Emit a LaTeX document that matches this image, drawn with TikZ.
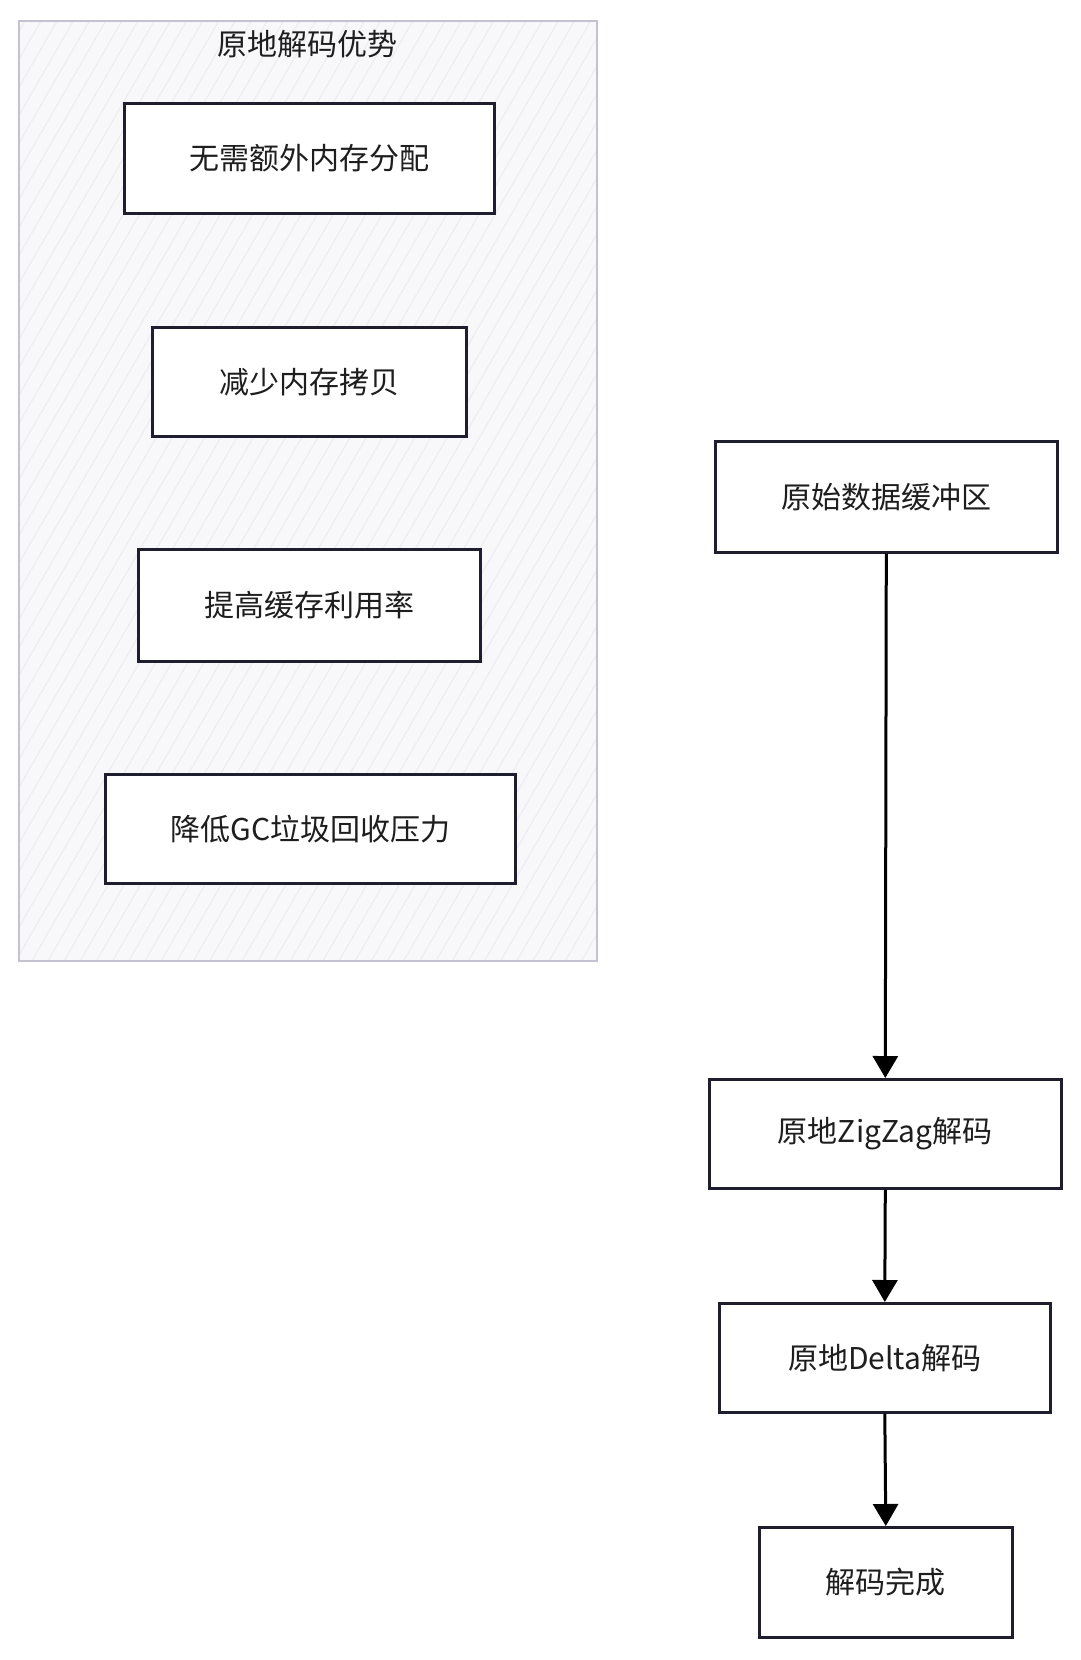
\documentclass[tikz,border=0pt]{standalone}
\usepackage{fontspec}
\setmainfont{Noto Sans CJK SC}
\usetikzlibrary{arrows.meta,patterns.meta}
\definecolor{boxline}{HTML}{1E1E2E}
\definecolor{grpline}{HTML}{C3C2D0}
\definecolor{grpfill}{HTML}{F8F8FA}
\definecolor{hatch}{HTML}{EEEEF2}
\definecolor{txt}{HTML}{1E1E1E}
\tikzset{
  stepbox/.style={draw=boxline, line width=2.6pt, fill=white, inner sep=0pt,
    anchor=north west},
  label/.style={text=txt, font=\fontsize{30}{36}\selectfont},
  flowarrow/.style={draw=black, line width=3pt, -{Triangle[width=25pt,length=22pt]}},
}
\begin{document}
\begin{tikzpicture}[x=1pt,y=-1pt]
\useasboundingbox (0,0) rectangle (1080,1660);
\fill[white] (0,0) rectangle (1080,1660);
% group container
\path[fill=grpfill] (19,21) rectangle (597,961);
\path[pattern={Lines[angle=60,distance=14pt,line width=1.2pt]}, pattern color=hatch] (19,21) rectangle (597,961);
\draw[grpline, line width=2.2pt] (19,21) rectangle (597,961);
\node[label] (title) at (307,44) {原地解码优势};
% left boxes
\node[stepbox, minimum width=370pt, minimum height=110pt] (b1) at (123,102) {};
\node[label] at (b1.center) {无需额外内存分配};
\node[stepbox, minimum width=314pt, minimum height=109pt] (b2) at (151,326) {};
\node[label] at (b2.center) {减少内存拷贝};
\node[stepbox, minimum width=342pt, minimum height=112pt] (b3) at (137,548) {};
\node[label] at (b3.center) {提高缓存利用率};
\node[stepbox, minimum width=410pt, minimum height=109pt] (b4) at (104,773) {};
\node[label] at (b4.center) {降低GC垃圾回收压力};
% right flow
\node[stepbox, minimum width=342pt, minimum height=111pt] (r1) at (714,440) {};
\node[label] at (r1.center) {原始数据缓冲区};
\node[stepbox, minimum width=352pt, minimum height=109pt] (r2) at (708,1078) {};
\node[label] at (r2.center) {原地ZigZag解码};
\node[stepbox, minimum width=331pt, minimum height=109pt] (r3) at (718,1302) {};
\node[label] at (r3.center) {原地Delta解码};
\node[stepbox, minimum width=253pt, minimum height=110pt] (r4) at (758,1526) {};
\node[label] at (r4.center) {解码完成};
% arrows
\draw[flowarrow] (r1.south) -- (r2.north);
\draw[flowarrow] (r2.south) -- (r3.north);
\draw[flowarrow] (r3.south) -- (r4.north);
\end{tikzpicture}
\end{document}
